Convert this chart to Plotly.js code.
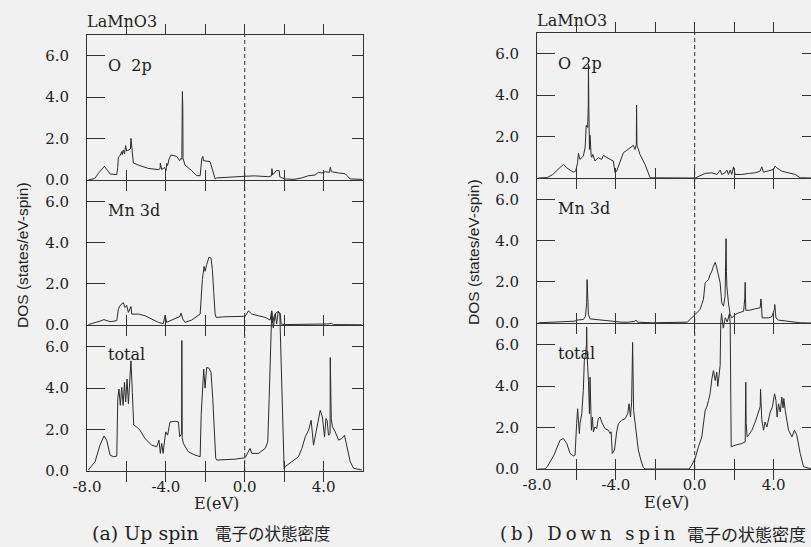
<!DOCTYPE html>
<html><head><meta charset="utf-8">
<script src="https://cdn.plot.ly/plotly-3.0.1.min.js"></script>
<style>
html,body{margin:0;padding:0;background:#f1f1f1;overflow:hidden;width:811px;height:547px}
#chart{width:813px;height:547px}
.wide-caption{letter-spacing:4px}
</style>
</head><body><div id="chart"></div>
<script>
// ---------------- DATA ----------------
const xTickVals = [-8, -6, -4, -2, 0, 2, 4, 6];
const xTickText = ['-8.0', '', '-4.0', '', '0.0', '', '4.0', ''];
const yTickVals = [0, 2, 4, 6];
const yTickText = ['0.0', '2.0', '4.0', '6.0'];
const panelTitles = ['O  2p', 'Mn 3d', 'total'];

// (a) Up spin
const upO2pE = [-7.93,-7.6,-7.4,-7.12,-6.95,-6.83,-6.49,-6.44,-6.41,-6.32,-6.24,-6.21,-6.16,-6.10,-6.04,-5.99,-5.94,-5.85,-5.80,-5.77,-5.73,-5.65,-5.39,-4.89,-4.38,-4.29,-4.28,-4.24,-4.21,-4.07,-3.99,-3.96,-3.91,-3.84,-3.74,-3.45,-3.30,-3.23,-3.19,-3.17,-3.16,-3.14,-3.13,-3.03,-2.69,-2.44,-2.26,-2.21,-2.18,-2.13,-2.09,-1.76,-1.64,-1.50,-1.42,-0.5,0.0,0.5,1.2,1.36,1.38,1.42,1.5,1.6,1.75,1.78,1.85,2.0,2.05,2.5,2.9,3.2,3.57,3.74,3.91,4.08,4.30,4.34,4.40,4.76,5.10,5.35,5.94];
const upO2pV = [0,0.08,0.35,0.66,0.45,0.29,0.26,0.6,1.10,1.18,1.37,1.22,1.45,1.26,1.66,1.40,1.42,1.47,1.50,2.01,1.58,0.82,0.72,0.56,0.50,0.55,0.82,0.50,0.50,0.60,0.45,0.80,0.70,1.01,1.21,1.14,0.93,1.05,1.0,3.43,4.27,3.43,1.05,0.72,0.45,0.21,0.21,0.80,1.01,1.14,0.93,0.89,0.53,0.05,0.10,0.13,0.18,0.20,0.16,0.20,0.55,0.25,0.35,0.45,0.45,0.15,0.12,0.08,0.05,0.03,0.10,0.20,0.24,0.37,0.34,0.40,0.37,0.61,0.40,0.34,0.30,0.05,0.03];

const upMn3dE = [-7.93,-7.59,-7.3,-7.14,-6.83,-6.49,-6.41,-6.32,-6.24,-6.16,-6.07,-5.99,-5.90,-5.77,-5.73,-5.39,-5.06,-4.72,-4.38,-4.13,-4.04,-3.96,-3.53,-3.28,-3.23,-3.14,-3.03,-2.69,-2.26,-2.15,-2.06,-2.01,-1.93,-1.81,-1.71,-1.64,-1.57,-1.50,-1.45,-1.0,-0.06,0.02,0.19,0.36,0.70,1.04,1.29,1.37,1.41,1.5,1.6,1.7,1.8,1.85,2.0,3.5,3.6,4.2,4.4,4.5,5.94];
const upMn3dV = [0.02,0.10,0.20,0.26,0.16,0.21,0.77,0.95,1.01,1.09,0.85,0.96,0.61,0.90,0.53,0.53,0.45,0.29,0.13,0.06,0.48,0.13,0.29,0.42,0.58,0.29,0.13,0.24,0.53,2.21,2.85,2.61,2.93,3.30,3.25,2.69,1.57,0.53,0.37,0.40,0.42,0.42,0.69,0.53,0.45,0.37,0.24,0.69,0.10,0.45,0.60,0.65,0.55,0.05,0.02,0.03,0.05,0.05,0.08,0.02,0.01];

const upTotalE = [-7.93,-7.59,-7.34,-7.14,-7.0,-6.83,-6.66,-6.49,-6.44,-6.38,-6.31,-6.24,-6.17,-6.10,-6.04,-5.97,-5.90,-5.82,-5.77,-5.70,-5.63,-5.48,-5.31,-5.06,-4.72,-4.46,-4.35,-4.28,-4.21,-4.14,-4.07,-4.01,-3.91,-3.79,-3.53,-3.36,-3.30,-3.20,-3.19,-3.17,-3.11,-2.86,-2.52,-2.26,-2.21,-2.15,-2.08,-2.01,-1.93,-1.81,-1.71,-1.62,-1.54,-1.47,-1.42,-1.0,-0.5,0.02,0.27,0.36,0.70,1.04,1.17,1.24,1.31,1.37,1.45,1.55,1.62,1.70,1.78,2.0,2.05,2.39,2.73,2.90,3.07,3.24,3.37,3.49,3.66,3.83,3.94,4.05,4.12,4.18,4.25,4.33,4.34,4.36,4.39,4.45,4.59,4.76,4.93,5.06,5.18,5.35,5.52,5.94];
const upTotalV = [0.05,0.45,1.25,1.69,1.49,0.77,0.69,0.72,3.49,3.96,3.17,4.04,3.17,4.28,3.33,4.44,3.25,4.60,5.32,3.80,2.21,2.13,1.97,1.57,1.25,1.17,1.49,0.85,1.33,0.85,1.57,1.89,1.73,2.37,2.40,2.37,1.65,1.80,6.30,1.60,1.33,0.93,0.77,0.69,2.69,4.10,4.92,4.00,5.00,4.96,4.76,3.49,1.89,0.61,0.53,0.55,0.57,0.64,1.09,0.85,0.85,1.09,1.41,3.49,5.80,7.70,6.90,7.60,7.10,7.70,7.60,0.10,0.21,0.45,0.69,1.09,1.65,1.97,2.45,1.25,2.13,2.93,2.61,1.65,2.53,2.45,1.73,1.80,5.48,2.60,2.53,2.13,1.89,1.49,1.57,1.73,1.25,0.45,0.13,0.05];

// (b) Down spin
const dnO2pE = [-7.93,-7.6,-7.48,-7.2,-6.95,-6.66,-6.49,-6.16,-6.04,-5.94,-5.90,-5.82,-5.65,-5.56,-5.50,-5.43,-5.40,-5.39,-5.37,-5.34,-5.31,-5.25,-5.22,-5.17,-5.06,-4.89,-4.72,-4.63,-4.46,-4.29,-4.13,-4.04,-3.96,-3.79,-3.62,-3.45,-3.28,-3.11,-3.03,-2.96,-2.95,-2.93,-2.86,-2.78,-2.52,-2.35,-2.26,0.02,0.10,0.36,0.53,0.87,1.13,1.29,1.37,1.54,1.63,1.71,1.80,1.88,1.97,2.05,2.39,2.73,3.07,3.32,3.40,3.49,3.74,3.99,4.08,4.16,4.42,4.76,5.10,5.35,5.94];
const dnO2pV = [0,0.01,0.02,0.17,0.41,0.66,0.49,0.28,0.33,0.74,1.19,0.90,1.06,1.46,2.55,2.44,3.50,5.50,3.30,1.38,2.06,1.06,1.00,1.14,0.82,0.98,0.90,1.09,0.98,0.90,0.82,0.25,0.33,0.74,1.22,1.33,1.46,1.58,1.38,1.60,3.52,1.55,1.40,1.14,0.66,0.17,0.01,0.00,0.04,0.17,0.22,0.25,0.17,0.38,0.17,0.25,0.38,0.17,0.38,0.17,0.54,0.17,0.17,0.22,0.25,0.33,0.54,0.28,0.33,0.41,0.57,0.49,0.33,0.25,0.17,0.01,0];

const dnMn3dE = [-7.93,-7.0,-6.5,-6.32,-6.07,-5.99,-5.65,-5.54,-5.48,-5.46,-5.43,-5.39,-5.31,-5.06,-4.72,-4.38,-4.04,-3.70,-3.36,-3.03,-2.98,-2.90,-2.18,-0.38,0.02,0.27,0.44,0.53,0.61,0.70,0.78,0.87,0.95,1.04,1.12,1.21,1.29,1.37,1.46,1.54,1.57,1.59,1.61,1.63,1.71,1.80,1.88,2.05,2.22,2.48,2.54,2.56,2.59,2.78,3.07,3.32,3.36,3.38,3.42,3.74,3.91,4.05,4.06,4.12,4.25,4.59,5.10,5.35,5.94];
const dnMn3dV = [0.01,0.04,0.06,0.09,0.09,0.14,0.17,0.33,1.00,2.11,0.57,0.41,0.20,0.17,0.14,0.09,0.06,0.04,0.04,0.09,0.14,0.04,0.01,0.04,0.41,0.66,1.14,1.95,2.03,2.11,2.35,2.52,2.76,2.95,2.68,2.35,1.95,0.98,0.82,1.30,2.50,4.10,2.50,1.79,0.98,0.41,0.25,0.41,0.49,0.57,1.20,1.98,0.62,0.62,0.69,0.74,1.17,1.00,0.25,0.25,0.30,0.69,0.90,0.25,0.14,0.09,0.04,0.01,0];

const dnTotalE = [-7.93,-7.6,-7.48,-7.14,-6.83,-6.66,-6.49,-6.32,-6.16,-6.07,-5.99,-5.94,-5.85,-5.82,-5.73,-5.65,-5.60,-5.55,-5.49,-5.48,-5.46,-5.39,-5.34,-5.31,-5.28,-5.24,-5.19,-5.14,-5.06,-4.97,-4.89,-4.80,-4.72,-4.55,-4.38,-4.29,-4.24,-4.18,-4.07,-3.96,-3.87,-3.70,-3.53,-3.40,-3.33,-3.26,-3.20,-3.15,-3.10,-3.03,-2.95,-2.86,-2.73,-2.61,-2.52,-0.28,-0.15,0.02,0.19,0.36,0.53,0.61,0.70,0.78,0.87,0.95,1.04,1.12,1.17,1.24,1.29,1.32,1.36,1.45,1.55,1.65,1.76,1.80,1.85,2.05,2.39,2.56,2.58,2.59,2.61,2.66,2.73,2.90,3.07,3.27,3.32,3.34,3.36,3.40,3.49,3.57,3.66,3.83,3.94,4.05,4.12,4.18,4.25,4.34,4.42,4.48,4.52,4.59,4.76,4.93,5.06,5.18,5.35,5.52,5.94];
const dnTotalV = [0,0,0.11,0.67,1.39,1.47,1.23,0.75,0.63,0.67,2.19,2.91,1.71,2.19,2.67,3.79,5.23,5.47,6.00,6.85,5.50,4.27,2.67,4.43,3.00,1.87,2.51,1.79,2.03,1.95,2.43,2.51,2.27,1.95,1.87,1.71,1.79,0.75,0.91,1.79,2.19,2.35,2.43,2.67,3.15,2.51,3.23,6.11,2.83,2.19,1.47,0.91,0.43,0.08,0,0,0.19,0.51,1.07,1.55,2.83,2.99,3.31,3.63,4.35,4.75,4.27,4.67,3.99,4.67,4.99,7.00,7.50,6.80,7.30,7.10,7.50,7.00,1.07,1.15,1.23,1.31,2.50,4.19,2.20,1.55,1.63,1.87,2.27,2.83,3.00,3.85,2.67,2.40,1.87,2.27,2.03,2.75,2.99,3.63,3.31,2.51,3.15,2.75,3.47,2.95,3.40,2.83,1.87,1.55,1.87,1.63,0.75,0.11,0];

// ---------------- LAYOUT GEOMETRY ----------------
const W = 813, H = 547;
const fx = p => p / W;
const fy = p => 1 - p / H;
const INK = '#2b2b2b';
const SERIF = 'DejaVu Serif, Liberation Serif, serif';
const yKey = n => n === 1 ? 'yaxis' : 'yaxis' + n;
const yRef = n => n === 1 ? 'y' : 'y' + n;

const panels = [
  { xdom: [87, 363], rows: [[35, 180], [181, 325], [326, 471]],
    series: [[upO2pE, upO2pV], [upMn3dE, upMn3dV], [upTotalE, upTotalV]],
    head: 'LaMnO3', headY: 22, labelX: 106, labelY: [65, 210, 354],
    yTitleX: 22, yTitleY: 255, exX: 216, exY: 503,
    capA: '(a) Up spin', capAX: 90, capAnchor: 'left', capASize: 19,
    capB: '電子の状態密度', capBX: 333, capBSize: 16.5, wide: false },
  { xdom: [537, 813], rows: [[33, 178], [179, 323], [324, 469]],
    series: [[dnO2pE, dnO2pV], [dnMn3dE, dnMn3dV], [dnTotalE, dnTotalV]],
    head: 'LaMnO3', headY: 20, labelX: 556, labelY: [64, 208, 353],
    yTitleX: 473, yTitleY: 252, exX: 666, exY: 502,
    capA: '(b) Down spin', capAX: 590, capAnchor: 'center', capASize: 18,
    capB: '電子の状態密度', capBX: 808, capBSize: 17, wide: true }
];

const layout = {
  width: W, height: H,
  margin: { l: 0, r: 0, t: 0, b: 0 },
  paper_bgcolor: '#f1f1f1', plot_bgcolor: 'rgba(0,0,0,0)',
  showlegend: false,
  annotations: [], shapes: []
};
const data = [];
const wideIdx = [];

const lineAx = { showline: true, linecolor: '#333', linewidth: 1, showgrid: false, zeroline: false,
  tickcolor: '#333', tickwidth: 1, fixedrange: true };
const emptyTrace = (xid, yid) => ({ type: 'scatter', mode: 'lines', x: [], y: [], xaxis: xid, yaxis: yid, hoverinfo: 'skip' });

let yi = 1;
panels.forEach((P, pi) => {
  const xid = pi === 0 ? 'x' : 'x2';
  const xkey = pi === 0 ? 'xaxis' : 'xaxis2';
  const ids = [];
  // left y axes with labels
  P.rows.forEach(r => {
    const id = yi++;
    ids.push(id);
    layout[yKey(id)] = Object.assign({}, lineAx, {
      domain: [fy(r[1]), fy(r[0])], range: [0, 7], anchor: xid, side: 'left',
      tickmode: 'array', tickvals: yTickVals, ticktext: yTickText,
      ticks: 'inside', ticklen: 18, ticklabelstandoff: 14,
      tickfont: { family: SERIF, size: 15, color: '#222' }
    });
    data.push(emptyTrace(xid, yRef(id)));
  });
  // right-hand frame with shorter ticks (own axis, same domain and range)
  P.rows.forEach(r => {
    const id = yi++;
    layout[yKey(id)] = Object.assign({}, lineAx, {
      domain: [fy(r[1]), fy(r[0])], range: [0, 7], side: 'right', anchor: xid,
      tickmode: 'array', tickvals: yTickVals, ticks: 'inside', ticklen: 11, showticklabels: false
    });
    data.push(emptyTrace(xid, yRef(id)));
  });
  // overflow axis for the total curve (spans total + Mn 3d rows, same scale)
  const tot = P.rows[2], mn = P.rows[1];
  const ovId = yi++;
  layout[yKey(ovId)] = {
    domain: [fy(tot[1]), fy(mn[0])], range: [0, 7 * (tot[1] - mn[0]) / (tot[1] - tot[0])],
    anchor: xid, visible: false, fixedrange: true, showgrid: false, zeroline: false
  };
  layout[xkey] = Object.assign({}, lineAx, {
    domain: [fx(P.xdom[0]), fx(P.xdom[1])], range: [-8, 6], anchor: yRef(ids[2]),
    tickmode: 'array', tickvals: xTickVals, ticktext: xTickText,
    ticks: 'inside', ticklen: 10, mirror: 'allticks', ticklabelstandoff: 2,
    tickfont: { family: SERIF, size: 15, color: '#222' }
  });
  P.series.forEach((s, si) => {
    data.push({
      type: 'scatter', mode: 'lines', x: s[0], y: s[1], xaxis: xid,
      yaxis: yRef(si === 2 ? ovId : ids[si]),
      line: { color: INK, width: 1 }, hoverinfo: 'skip'
    });
  });
  layout.shapes.push({
    type: 'line', xref: xid, yref: 'paper', x0: 0, x1: 0,
    y0: fy(P.rows[2][1]), y1: fy(P.rows[0][0]),
    line: { color: '#333', width: 1, dash: '4px,3px' }, layer: 'above'
  });
  const ann = (t, x, y, o) => { layout.annotations.push(Object.assign({
    text: t, xref: 'paper', yref: 'paper', x: fx(x), y: fy(y), showarrow: false,
    xanchor: 'left', yanchor: 'middle', font: { family: SERIF, size: 16, color: '#222' }
  }, o || {})); return layout.annotations.length - 1; };
  ann(P.head, P.xdom[0] - 2, P.headY);
  panelTitles.forEach((t, ti) => ann(t, P.labelX, P.labelY[ti]));
  ann('DOS (states/eV-spin)', P.yTitleX, P.yTitleY, { xanchor: 'center', textangle: -90,
    font: { family: 'Liberation Sans, Arial, sans-serif', size: 15.5, color: '#222' } });
  ann('E(eV)', P.exX, P.exY, { xanchor: 'center', font: { family: SERIF, size: 16, color: '#222' } });
  const ci = ann(P.capA, P.capAX, 533, { xanchor: P.capAnchor, font: { family: SERIF, size: P.capASize, color: '#222' } });
  if (P.wide) wideIdx.push(ci);
  ann(P.capB, P.capBX, 533, { xanchor: 'right', font: { family: 'Noto Sans CJK JP, sans-serif', size: P.capBSize, color: '#222' } });
});

Plotly.newPlot('chart', data, layout, { staticPlot: true, displayModeBar: false }).then(gd => {
  wideIdx.forEach(i => {
    const g = gd.querySelector('.annotation[data-index="' + i + '"] text');
    if (g) g.classList.add('wide-caption');
  });
});
</script></body></html>
